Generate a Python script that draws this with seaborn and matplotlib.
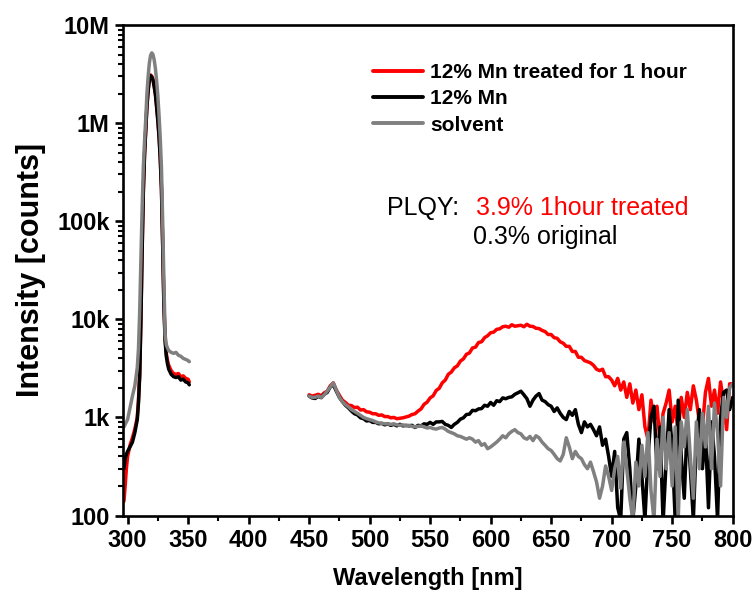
import numpy as np
import pandas as pd
import seaborn as sns
import matplotlib.pyplot as plt
from matplotlib.ticker import MultipleLocator, LogLocator, NullFormatter

# UV / excitation region (nm)
uv_nm = [297, 298, 299, 300, 302, 304, 306, 308, 309, 310, 311, 312, 313, 314, 315,
         316, 317, 318, 319, 320, 321, 322, 323, 324, 325, 326, 327, 328, 329, 330,
         331, 332, 333, 334, 336, 338, 340, 342, 344, 346, 348, 350, 351]

uv_treated = [140, 200, 300, 400, 520, 620, 760, 1000, 1500, 2800, 10000, 50000, 200000,
              480000, 850000, 1500000, 2200000, 2800000, 3100000, 3000000, 2800000,
              2400000, 2000000, 1500000, 1100000, 750000, 450000, 220000, 60000, 15000,
              6500, 4500, 3800, 3400, 3000, 2800, 2750, 2800, 2600, 2650, 2500, 2450, 2300]

uv_mn = [300, 380, 420, 450, 500, 560, 700, 950, 1400, 2600, 9500, 48000, 195000,
         470000, 840000, 1480000, 2150000, 2750000, 3050000, 2950000, 2750000,
         2350000, 1950000, 1450000, 1050000, 720000, 430000, 210000, 57000, 14000,
         6000, 4200, 3500, 3100, 2750, 2600, 2550, 2600, 2400, 2450, 2300, 2250, 2150]

uv_solvent = [800, 850, 900, 950, 1250, 1650, 2100, 3200, 5000, 12000, 40000, 130000,
              350000, 650000, 1100000, 2000000, 3000000, 4100000, 4900000, 5200000,
              5000000, 4400000, 3600000, 2700000, 1900000, 1200000, 700000, 350000,
              100000, 25000, 7000, 5500, 5100, 4800, 4600, 4500, 4600, 4300, 4200, 4000,
              3900, 3800, 3700]

# emission region, 450-800 nm every 2.5 nm
vis_nm = np.arange(450, 800.1, 2.5)

vis_treated = [
    1700, 1650, 1680, 1720, 1660, 1780, 1850, 2100, 2250, 1900,
    1680, 1500, 1420, 1330, 1320, 1260, 1270, 1190, 1200, 1140,
    1130, 1090, 1090, 1050, 1060, 1020, 1020, 990, 1000, 970,
    980, 990, 1010, 1030, 1070, 1090, 1160, 1220, 1360, 1430,
    1580, 1660, 1880, 1980, 2250, 2400, 2750, 2900, 3200, 3350,
    3750, 3950, 4400, 4550, 5100, 5200, 5800, 5900, 6500, 6800,
    7300, 7400, 7900, 8000, 8400, 8500, 8300, 8800, 8500, 8600,
    8700, 8400, 8900, 8500, 8450, 8100, 8050, 7700, 7500, 7000,
    7000, 6500, 6400, 5900, 5700, 5300, 5300, 4700, 4700, 4100,
    4100, 3800, 3700, 3600, 3400, 3100, 3000, 3100, 2600, 2600,
    2400, 2100, 2500, 1900, 2300, 1600, 2200, 1400, 1900, 1200,
    1700, 800, 600, 1500, 900, 1300, 550, 1100, 1400, 1900,
    900, 1300, 700, 1600, 1000, 1800, 1200, 2100, 1500, 900,
    800, 1800, 2500, 1300, 1900, 1100, 2300, 1400, 750, 2200,
    2200]

vis_mn = [
    1650, 1580, 1560, 1640, 1590, 1720, 1800, 2050, 2150, 1850,
    1600, 1450, 1330, 1250, 1160, 1090, 1060, 990, 970, 920,
    930, 890, 890, 860, 870, 840, 860, 830, 850, 820,
    850, 820, 830, 820, 830, 790, 830, 820, 860, 850,
    890, 850, 900, 900, 910, 850, 830, 790, 850, 890,
    960, 990, 1070, 1080, 1180, 1170, 1220, 1230, 1330, 1300,
    1420, 1330, 1480, 1450, 1580, 1550, 1600, 1620, 1720, 1780,
    1850, 1700, 1550, 1300, 1500, 1650, 1750, 1500, 1450, 1350,
    1300, 1150, 1250, 1100, 1000, 950, 1150, 1050, 1200, 850,
    700, 900, 800, 850, 750, 650, 800, 520, 600, 400,
    250, 450, 120, 90, 600, 700, 300, 90, 200, 600,
    250, 90, 400, 1000, 1300, 300, 800, 85, 350, 1200,
    500, 90, 1500, 400, 150, 900, 300, 90, 600, 1200,
    300, 700, 120, 900, 400, 90, 1000, 1800, 1900, 1200,
    1600]

vis_solvent = [
    1650, 1600, 1600, 1650, 1600, 1700, 1850, 2050, 2250, 1900,
    1600, 1450, 1350, 1280, 1200, 1150, 1100, 1050, 1000, 970,
    950, 930, 900, 880, 870, 860, 860, 850, 860, 840,
    830, 840, 820, 830, 810, 800, 810, 820, 800, 780,
    790, 770, 760, 780, 790, 760, 720, 700, 680, 650,
    640, 620, 600, 620, 600, 560, 580, 520, 540, 480,
    500, 530, 560, 600, 650, 620, 680, 720, 750, 700,
    680, 620, 600, 640, 580, 650, 620, 560, 520, 480,
    460, 420, 380, 360, 420, 620, 500, 380, 450, 400,
    380, 330, 300, 350, 280, 220, 150, 200, 320, 250,
    180, 300, 400, 190, 560, 300, 150, 90, 350, 200,
    520, 250, 700, 180, 90, 600, 250, 1000, 300, 700,
    200, 800, 90, 900, 500, 1200, 400, 150, 900, 300,
    1100, 500, 1300, 300, 1400, 700, 200, 1600, 1000, 2000,
    2200]

labels = ['12% Mn treated for 1 hour', '12% Mn', 'solvent']
colors = ['#ff0000', '#000000', '#808080']

frames = []
for lab, uv, vis in zip(labels, [uv_treated, uv_mn, uv_solvent],
                        [vis_treated, vis_mn, vis_solvent]):
    frames.append(pd.DataFrame({'nm': uv_nm, 'counts': uv, 'sample': lab, 'seg': 'uv'}))
    frames.append(pd.DataFrame({'nm': vis_nm, 'counts': vis, 'sample': lab, 'seg': 'vis'}))
df = pd.concat(frames, ignore_index=True)

sns.set_style('ticks')
plt.rcParams['font.family'] = ['Liberation Sans', 'DejaVu Sans']
for k in ['text.color', 'axes.labelcolor', 'xtick.color', 'ytick.color', 'axes.edgecolor']:
    plt.rcParams[k] = 'black'
narrow = ['Liberation Sans Narrow', 'Liberation Sans', 'DejaVu Sans']

fig = plt.figure(figsize=(7.53, 5.97), dpi=100)
ax = fig.add_axes([0.163, 0.1365, 0.810, 0.8216])

sns.lineplot(data=df, x='nm', y='counts', hue='sample', units='seg', estimator=None,
             hue_order=labels, palette=colors, linewidth=2.5, ax=ax, sort=False)

ax.set_yscale('log')
ax.set_ylim(100, 1e7)
ax.set_xlim(296, 800)
ax.set_yticks([1e2, 1e3, 1e4, 1e5, 1e6, 1e7])
ax.set_yticklabels(['100', '1k', '10k', '100k', '1M', '10M'])
ax.yaxis.set_minor_locator(LogLocator(base=10, subs=np.arange(2, 10)))
ax.yaxis.set_minor_formatter(NullFormatter())
ax.xaxis.set_major_locator(MultipleLocator(50))
ax.xaxis.set_minor_locator(MultipleLocator(25))

for s in ax.spines.values():
    s.set_linewidth(1.9)
    s.set_color('black')
ax.tick_params(which='major', length=6, width=1.9, direction='out', colors='black')
ax.tick_params(which='minor', length=3.5, width=1.5, direction='out', colors='black')
for t in ax.get_xticklabels() + ax.get_yticklabels():
    t.set_family(narrow)
    t.set_fontweight('bold')
    t.set_fontsize(17)

ax.set_xlabel('Wavelength [nm]', fontsize=17, fontweight='bold', family=narrow, labelpad=11)
ax.set_ylabel('Intensity [counts]', fontsize=22, fontweight='bold', labelpad=8)

leg = ax.legend(loc='upper left', bbox_to_anchor=(0.41, 0.9225), frameon=False,
                borderpad=0, borderaxespad=0, handlelength=2.4, handletextpad=0.35,
                labelspacing=0.35, prop={'weight': 'bold', 'size': 15})
for h in leg.get_lines():
    h.set_linewidth(2.8)

ax.text(0.4328, 0.6126, 'PLQY:', transform=ax.transAxes, fontsize=18, va='baseline')
ax.text(0.580, 0.6126, '3.9% 1hour treated', transform=ax.transAxes, fontsize=18,
        va='baseline', color='#ff0000')
ax.text(0.5748, 0.5535, '0.3% original', transform=ax.transAxes, fontsize=18,
        va='baseline')

fig.savefig('out.png', dpi=100)
